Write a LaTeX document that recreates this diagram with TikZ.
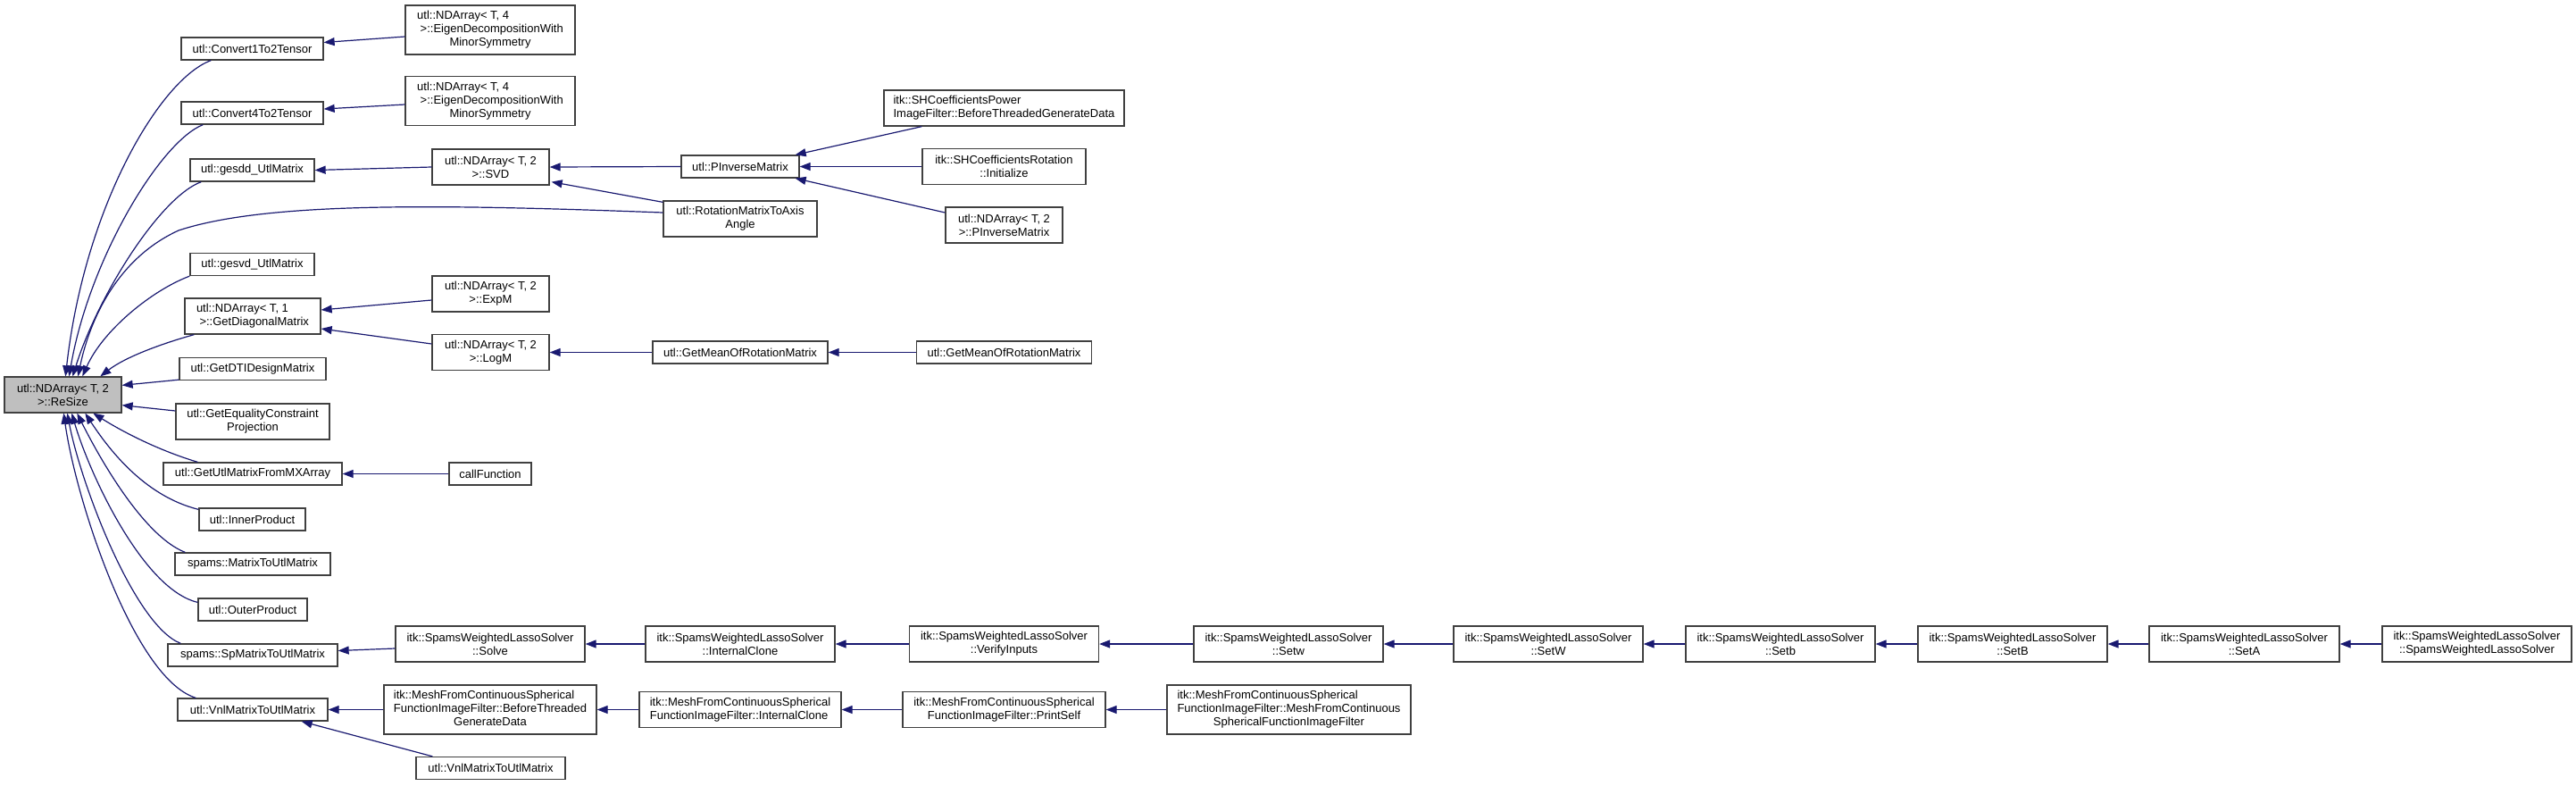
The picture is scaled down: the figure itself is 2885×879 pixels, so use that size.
\documentclass[tikz,border=0pt]{standalone}
\usepackage{fontspec}
\setmainfont{Liberation Sans}
\usetikzlibrary{arrows.meta,calc}
\definecolor{edgeblue}{RGB}{25,25,112}
\newcommand{\ml}[1]{\begin{tabular}{@{}l@{}}#1\end{tabular}}
\newcommand{\mc}[1]{\multicolumn{1}{@{}c@{}}{#1}}
\begin{document}
\begin{tikzpicture}[x=1pt,y=-1pt,
  box/.style={draw=black!75, line width=1.3pt, fill=white, inner sep=0pt, align=center,
    font=\fontsize{13}{15}\selectfont},
  edge/.style={draw=edgeblue, line width=1.2pt, -{Triangle[length=12pt,width=9pt]}},
  ]
\useasboundingbox (0,0) rectangle (2885,879);

% rank 0
\node[box,minimum width=131pt,minimum height=40pt,fill=black!25] (rs) at (70.5,442) {utl::NDArray< T, 2\\>::ReSize};

% rank 1
\node[box,minimum width=159pt,minimum height=25pt] (c1) at (282.5,54.5) {utl::Convert1To2Tensor};
\node[box,minimum width=159pt,minimum height=25pt] (c4) at (282.5,126.5) {utl::Convert4To2Tensor};
\node[box,minimum width=139pt,minimum height=25pt] (gesdd) at (282.5,190.5) {utl::gesdd\_UtlMatrix};
\node[box,minimum width=139pt,minimum height=25pt] (gesvd) at (282.5,296) {utl::gesvd\_UtlMatrix};
\node[box,minimum width=152pt,minimum height=40pt] (diag) at (283,354) {\ml{utl::NDArray< T, 1\\\hspace*{3.5pt}>::GetDiagonalMatrix}};
\node[box,minimum width=164pt,minimum height=25pt] (dti) at (283,413) {utl::GetDTIDesignMatrix};
\node[box,minimum width=172pt,minimum height=40pt] (eq) at (283,472) {utl::GetEqualityConstraint\\Projection};
\node[box,minimum width=200pt,minimum height=25pt] (mx) at (283,530.5) {utl::GetUtlMatrixFromMXArray};
\node[box,minimum width=119pt,minimum height=25pt] (inner) at (282.5,581.5) {utl::InnerProduct};
\node[box,minimum width=174pt,minimum height=25pt] (mat) at (283,631.5) {spams::MatrixToUtlMatrix};
\node[box,minimum width=122pt,minimum height=25pt] (outer) at (283,682.5) {utl::OuterProduct};
\node[box,minimum width=190pt,minimum height=25pt] (sp) at (283,733.5) {spams::SpMatrixToUtlMatrix};
\node[box,minimum width=168pt,minimum height=25pt] (vnl) at (283,794.5) {utl::VnlMatrixToUtlMatrix};

% rank 2
\node[box,minimum width=190pt,minimum height=55pt] (eig1) at (549,33.5) {\ml{utl::NDArray< T, 4\\\hspace*{3.5pt}>::EigenDecompositionWith\\\mc{MinorSymmetry}}};
\node[box,minimum width=190pt,minimum height=55pt] (eig2) at (549,113) {\ml{utl::NDArray< T, 4\\\hspace*{3.5pt}>::EigenDecompositionWith\\\mc{MinorSymmetry}}};
\node[box,minimum width=131pt,minimum height=40pt] (svd) at (549.5,187) {utl::NDArray< T, 2\\>::SVD};
\node[box,minimum width=131pt,minimum height=40pt] (expm) at (549.5,329) {utl::NDArray< T, 2\\>::ExpM};
\node[box,minimum width=131pt,minimum height=40pt] (logm) at (549.5,394.5) {utl::NDArray< T, 2\\>::LogM};
\node[box,minimum width=92pt,minimum height=25pt] (callf) at (549,530.5) {callFunction};
\node[box,minimum width=212pt,minimum height=40pt] (solve) at (549,721) {itk::SpamsWeightedLassoSolver\\::Solve};
\node[box,minimum width=238pt,minimum height=55pt] (mbtg) at (549,794.5) {\ml{itk::MeshFromContinuousSpherical\\FunctionImageFilter::BeforeThreaded\\\mc{GenerateData}}};
\node[box,minimum width=167pt,minimum height=25pt] (vnl2) at (549.5,860) {utl::VnlMatrixToUtlMatrix};

% rank 3
\node[box,minimum width=132pt,minimum height=25pt] (pinv) at (829,186.5) {utl::PInverseMatrix};
\node[box,minimum width=172pt,minimum height=40pt] (rot) at (829,245) {utl::RotationMatrixToAxis\\Angle};
\node[box,minimum width=196pt,minimum height=25pt] (mean1) at (829,394.5) {utl::GetMeanOfRotationMatrix};
\node[box,minimum width=212pt,minimum height=40pt] (sic) at (829,721) {itk::SpamsWeightedLassoSolver\\::InternalClone};
\node[box,minimum width=226pt,minimum height=40pt] (mic) at (829,794.5) {\ml{itk::MeshFromContinuousSpherical\\FunctionImageFilter::InternalClone}};

% rank 4
\node[box,minimum width=269pt,minimum height=40pt] (shp) at (1124.5,121) {\ml{itk::SHCoefficientsPower\\ImageFilter::BeforeThreadedGenerateData}};
\node[box,minimum width=183pt,minimum height=40pt] (shr) at (1124.5,186.5) {itk::SHCoefficientsRotation\\::Initialize};
\node[box,minimum width=131pt,minimum height=40pt] (ndp) at (1124.5,252) {utl::NDArray< T, 2\\>::PInverseMatrix};
\node[box,minimum width=196pt,minimum height=25pt] (mean2) at (1124.5,394.5) {utl::GetMeanOfRotationMatrix};
\node[box,minimum width=212pt,minimum height=40pt] (ver) at (1124.5,721) {itk::SpamsWeightedLassoSolver\\::VerifyInputs};
\node[box,minimum width=227pt,minimum height=40pt] (prt) at (1124.5,794.5) {itk::MeshFromContinuousSpherical\\FunctionImageFilter::PrintSelf};

% rank 5+
\node[box,minimum width=212pt,minimum height=40pt] (setw) at (1443,721) {itk::SpamsWeightedLassoSolver\\::Setw};
\node[box,minimum width=273pt,minimum height=55pt] (mctor) at (1443.5,794.5) {\ml{itk::MeshFromContinuousSpherical\\FunctionImageFilter::MeshFromContinuous\\\mc{SphericalFunctionImageFilter}}};
\node[box,minimum width=212pt,minimum height=40pt] (setWW) at (1734,721) {itk::SpamsWeightedLassoSolver\\::SetW};
\node[box,minimum width=212pt,minimum height=40pt] (setb) at (1994,721) {itk::SpamsWeightedLassoSolver\\::Setb};
\node[box,minimum width=212pt,minimum height=40pt] (setBB) at (2254,721) {itk::SpamsWeightedLassoSolver\\::SetB};
\node[box,minimum width=213pt,minimum height=40pt] (setA) at (2513.5,721) {itk::SpamsWeightedLassoSolver\\::SetA};
\node[box,minimum width=212pt,minimum height=40pt] (ctor) at (2774,721) {itk::SpamsWeightedLassoSolver\\::SpamsWeightedLassoSolver};

% curved edges into ReSize
\draw[edge] ($(c1.south west)+(34,0)$) .. controls (180,88) and (95,230) .. ($(rs.north west)+(69,0)$);
\draw[edge] ($(c4.south west)+(25,0)$) .. controls (180,158) and (100,290) .. ($(rs.north west)+(73,0)$);
\draw[edge] ($(gesdd.south west)+(13,0)$) .. controls (180,220) and (110,330) .. ($(rs.north west)+(77,0)$);
\draw[edge] ($(rot.west)+(0,-7)$) .. controls (500,229) and (300,225) .. (200,258) .. controls (130,290) and (100,360) .. ($(rs.north west)+(83,0)$);
\draw[edge] (gesvd.south west) .. controls (170,325) and (115,370) .. ($(rs.north west)+(88,0)$);
\draw[edge] ($(diag.south west)+(11,0)$) .. controls (180,385) and (140,400) .. ($(rs.north west)+(108,0)$);
\draw[edge] ($(dti.south west)+(0,-1)$) -- ($(rs.north east)+(0,10)$);
\draw[edge] ($(eq.west)+(0,-12)$) -- ($(rs.south east)+(0,-9)$);
\draw[edge] ($(mx.north west)+(39,0)$) .. controls (180,505) and (140,485) .. ($(rs.south west)+(100,0)$);
\draw[edge] ($(inner.north west)+(0,2)$) .. controls (160,555) and (120,500) .. ($(rs.south west)+(91,0)$);
\draw[edge] ($(mat.north west)+(12,0)$) .. controls (160,600) and (110,510) .. ($(rs.south west)+(82,0)$);
\draw[edge] ($(outer.north west)+(0,5)$) .. controls (160,660) and (100,530) .. ($(rs.south west)+(76,0)$);
\draw[edge] ($(sp.north west)+(15,0)$) .. controls (150,700) and (90,540) .. ($(rs.south west)+(71,0)$);
\draw[edge] ($(vnl.north west)+(21,0)$) .. controls (150,760) and (85,560) .. ($(rs.south west)+(67,0)$);

% other edges
\draw[edge] ($(eig1.west)+(0,7.5)$) -- ($(c1.east)+(0,-7)$);
\draw[edge] ($(eig2.west)+(0,4)$) -- ($(c4.east)+(0,-4.5)$);
\draw[edge] (svd.west) -- (gesdd.east);
\draw[edge] (pinv.west) -- (svd.east);
\draw[edge] ($(rot.north west)+(0,2)$) -- ($(svd.south east)+(2,-4)$);
\draw[edge] ($(shp.south west)+(43,0)$) -- ($(pinv.north east)+(-5,0)$);
\draw[edge] (shr.west) -- (pinv.east);
\draw[edge] ($(ndp.west)+(0,-14)$) -- ($(pinv.south east)+(-5,0)$);
\draw[edge] ($(expm.west)+(0,7)$) -- ($(diag.east)+(0,-7)$);
\draw[edge] ($(logm.west)+(0,-9.5)$) -- ($(diag.east)+(0,14)$);
\draw[edge] (mean1.west) -- (logm.east);
\draw[edge] (mean2.west) -- (mean1.east);
\draw[edge] (callf.west) -- (mx.east);
\draw[edge] ($(solve.west)+(0,5)$) -- ($(sp.east)+(0,-5)$);
\draw[edge] (sic.west) -- (solve.east);
\draw[edge] (ver.west) -- (sic.east);
\draw[edge] (setw.west) -- (ver.east);
\draw[edge] (setWW.west) -- (setw.east);
\draw[edge] (setb.west) -- (setWW.east);
\draw[edge] (setBB.west) -- (setb.east);
\draw[edge] (setA.west) -- (setBB.east);
\draw[edge] (ctor.west) -- (setA.east);
\draw[edge] (mbtg.west) -- (vnl.east);
\draw[edge] ($(vnl2.north west)+(19,0)$) -- ($(vnl.south east)+(-30,0)$);
\draw[edge] (mic.west) -- (mbtg.east);
\draw[edge] (prt.west) -- (mic.east);
\draw[edge] (mctor.west) -- (prt.east);
\end{tikzpicture}
\end{document}
